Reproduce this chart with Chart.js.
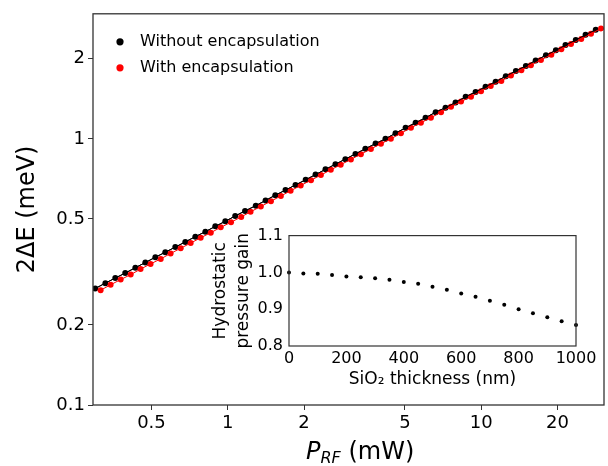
<!DOCTYPE html>
<html>
<head>
<meta charset="utf-8">
<script src="https://cdn.jsdelivr.net/npm/chart.js@4.4.1/dist/chart.umd.min.js"></script>
<style>
  body { margin: 0; background: #fff; }
  #wrap { position: relative; width: 608px; height: 466px; }
  #mainChart { position: absolute; left: 0; top: 0; }
  #insetChart { position: absolute; left: 200px; top: 220px; }
  #xTitle {
    position: absolute; left: 306px; top: 439px;
    font-family: "DejaVu Sans", sans-serif; font-size: 24px; line-height: 1;
    color: #000; white-space: nowrap;
  }
  #xTitle sub { font-size: 16px; vertical-align: -4px; }
</style>
</head>
<body>
<div id="wrap">
  <canvas id="mainChart" width="608" height="466"></canvas>
  <canvas id="insetChart" width="400" height="175"></canvas>
  <div id="xTitle"><i>P</i><sub><i>RF</i></sub> (mW)</div>
</div>
<script>
// main panel: 2ΔE vs P_RF (log-log)
const blackPower = [0.300,0.329,0.360,0.394,0.432,0.473,0.518,0.567,0.621,0.680,0.745,0.816,0.893,0.978,1.07,1.17,1.29,1.41,1.54,1.69,1.85,2.03,2.22,2.43,2.66,2.91,3.19,3.49,3.83,4.19,4.59,5.03,5.51,6.03,6.61,7.23,7.92,8.68,9.50,10.4,11.4,12.5,13.7,15.0,16.4,18.0,19.7,21.5,23.6,25.8,28.3];
const blackSplit = [0.274,0.287,0.300,0.313,0.328,0.343,0.359,0.375,0.392,0.410,0.429,0.448,0.469,0.490,0.513,0.536,0.561,0.587,0.614,0.642,0.671,0.702,0.734,0.768,0.803,0.839,0.878,0.918,0.960,1.00,1.05,1.10,1.15,1.20,1.26,1.31,1.37,1.44,1.50,1.57,1.64,1.72,1.80,1.88,1.97,2.06,2.15,2.25,2.35,2.46,2.57];
const redPower = [0.315,0.345,0.378,0.414,0.453,0.496,0.544,0.595,0.652,0.714,0.782,0.857,0.938,1.03,1.13,1.23,1.35,1.48,1.62,1.77,1.94,2.13,2.33,2.55,2.79,3.06,3.35,3.67,4.02,4.40,4.82,5.28,5.78,6.33,6.94,7.60,8.32,9.11,9.98,10.9,12.0,13.1,14.4,15.7,17.2,18.9,20.7,22.6,24.8,27.1,29.7];
const redSplit = [0.270,0.283,0.296,0.309,0.324,0.339,0.354,0.371,0.388,0.406,0.425,0.444,0.465,0.486,0.509,0.532,0.557,0.583,0.610,0.638,0.668,0.699,0.731,0.765,0.800,0.837,0.876,0.916,0.959,1.00,1.05,1.10,1.15,1.20,1.26,1.32,1.38,1.44,1.51,1.58,1.65,1.73,1.81,1.89,1.98,2.07,2.17,2.27,2.37,2.48,2.60];

const xMajorTicks = [0.5, 1, 2, 5, 10, 20];
const xMinorTicks = [0.3, 0.4, 0.6, 0.7, 0.8, 0.9, 3, 4, 6, 7, 8, 9, 30];
const yMajorTicks = [0.1, 0.2, 0.5, 1, 2];
const yMinorTicks = [0.3, 0.4, 0.6, 0.7, 0.8, 0.9];

// inset: hydrostatic pressure gain vs SiO2 thickness
const thickness = [0,50,100,150,200,250,300,350,400,450,500,550,600,650,700,750,800,850,900,950,1000];
const gain = [1.000,0.997,0.996,0.993,0.989,0.987,0.984,0.980,0.974,0.969,0.961,0.953,0.943,0.934,0.923,0.912,0.900,0.889,0.878,0.867,0.857];
const insetXTicks = [0, 200, 400, 600, 800, 1000];
const insetYTicks = [0.8, 0.9, 1.0, 1.1];

const FONT = "'DejaVu Sans', sans-serif";
const AXIS = "#333";

const toPoints = (xs, ys) => xs.map((x, i) => ({ x: x, y: ys[i] }));

// box around plot area, short minor ticks and the legend in the top-left corner
const frame = {
    id: "frame",
    afterDraw(chart, args, opts) {
        const { ctx, chartArea: a, scales } = chart;
        ctx.save();
        ctx.strokeStyle = AXIS;
        ctx.lineWidth = 1;
        (opts.xMinor || []).forEach(v => {
            const px = Math.round(scales.x.getPixelForValue(v)) + 0.5;
            if (px < a.left - 1 || px > a.right + 1) return;
            ctx.beginPath(); ctx.moveTo(px, a.bottom); ctx.lineTo(px, a.bottom + 3); ctx.stroke();
        });
        (opts.yMinor || []).forEach(v => {
            const py = Math.round(scales.y.getPixelForValue(v)) + 0.5;
            if (py < a.top - 1 || py > a.bottom + 1) return;
            ctx.beginPath(); ctx.moveTo(a.left, py); ctx.lineTo(a.left - 3, py); ctx.stroke();
        });
        ctx.lineWidth = 1.3;
        ctx.strokeRect(a.left, a.top, a.right - a.left, a.bottom - a.top);

        // legend
        ctx.font = "16px " + FONT;
        ctx.textBaseline = "middle";
        ctx.textAlign = "left";
        let row = 0;
        chart.data.datasets.forEach(ds => {
            if (!ds.label) return;
            const cy = a.top + 28 + row * 26;
            ctx.fillStyle = ds.backgroundColor;
            ctx.beginPath(); ctx.arc(a.left + 27, cy, 3.6, 0, Math.PI * 2); ctx.fill();
            ctx.fillStyle = "#000";
            ctx.fillText(ds.label, a.left + 47, cy);
            row++;
        });
        ctx.restore();
    }
};

new Chart(document.getElementById("mainChart"), {
    type: "scatter",
    data: {
        datasets: [
            {
                label: "Without encapsulation",
                data: toPoints(blackPower, blackSplit),
                backgroundColor: "#000", borderColor: "#000",
                pointRadius: 3, pointBorderWidth: 0,
                showLine: true, borderWidth: 1, order: 2
            },
            {
                label: "With encapsulation",
                data: toPoints(redPower, redSplit),
                backgroundColor: "#ff0000", borderColor: "#ff0000",
                pointRadius: 3, pointBorderWidth: 0,
                showLine: true, borderWidth: 1, order: 1
            },
            {
                label: "",
                data: toPoints(blackPower, blackSplit),
                borderColor: "#000", pointRadius: 0,
                showLine: true, borderWidth: 1, order: 0
            }
        ]
    },
    options: {
        responsive: false,
        animation: false,
        layout: { padding: { top: 6, right: 3, left: 0, bottom: 0 } },
        scales: {
            x: {
                type: "logarithmic",
                min: 0.294, max: 30.5,
                afterBuildTicks: s => { s.ticks = xMajorTicks.map(v => ({ value: v })); },
                afterFit: s => { s.height = 61; },
                ticks: {
                    autoSkip: false, maxRotation: 0, padding: 3,
                    color: "#000", font: { family: FONT, size: 18 },
                    callback: v => String(v)
                },
                grid: { drawOnChartArea: false, tickLength: 5, color: AXIS },
                border: { display: false }
            },
            y: {
                type: "logarithmic",
                min: 0.1, max: 2.95,
                afterBuildTicks: s => { s.ticks = yMajorTicks.map(v => ({ value: v })); },
                afterFit: s => { s.width = 93; },
                ticks: {
                    autoSkip: false, padding: 3,
                    color: "#000", font: { family: FONT, size: 18 },
                    callback: v => String(v)
                },
                grid: { drawOnChartArea: false, tickLength: 5, color: AXIS },
                border: { display: false },
                title: {
                    display: true, text: "2ΔE (meV)", color: "#000",
                    font: { family: FONT, size: 24 },
                    padding: { top: 13, bottom: 0 }
                }
            }
        },
        plugins: {
            legend: { display: false },
            tooltip: { enabled: false }
        }
    },
    plugins: [frame]
});

const insetFrame = {
    id: "insetFrame",
    afterDraw(chart) {
        const { ctx, chartArea: a } = chart;
        ctx.save();
        ctx.strokeStyle = AXIS;
        ctx.lineWidth = 1.2;
        ctx.strokeRect(a.left, a.top, a.right - a.left, a.bottom - a.top);
        ctx.restore();
    }
};

new Chart(document.getElementById("insetChart"), {
    type: "scatter",
    data: {
        datasets: [{
            data: toPoints(thickness, gain),
            backgroundColor: "#000", pointRadius: 2, pointBorderWidth: 0,
            clip: false
        }]
    },
    options: {
        responsive: false,
        animation: false,
        layout: { padding: { top: 0, right: 24, left: 0, bottom: 0 } },
        scales: {
            x: {
                type: "linear", min: 0, max: 1000,
                afterBuildTicks: s => { s.ticks = insetXTicks.map(v => ({ value: v })); },
                afterFit: s => { s.height = 49; },
                ticks: { autoSkip: false, maxRotation: 0, padding: 3, color: "#000", font: { family: FONT, size: 16 }, callback: v => String(v) },
                grid: { display: false, drawTicks: false },
                border: { display: false },
                title: {
                    display: true, text: "SiO₂ thickness (nm)", color: "#000",
                    font: { family: FONT, size: 17 }, padding: { top: 0, bottom: 5 }
                }
            },
            y: {
                type: "linear", min: 0.8, max: 1.1,
                afterBuildTicks: s => { s.ticks = insetYTicks.map(v => ({ value: v })); },
                afterFit: s => { s.width = 89; },
                ticks: { autoSkip: false, padding: 6, color: "#000", font: { family: FONT, size: 16 }, callback: v => v.toFixed(1) },
                grid: { display: false, drawTicks: false },
                border: { display: false },
                title: {
                    display: true, text: ["Hydrostatic", "pressure gain"], color: "#000",
                    font: { family: FONT, size: 17, lineHeight: 1.35 }, padding: { top: 9, bottom: 0 }
                }
            }
        },
        plugins: { legend: { display: false }, tooltip: { enabled: false } }
    },
    plugins: [insetFrame]
});
</script>
</body>
</html>
